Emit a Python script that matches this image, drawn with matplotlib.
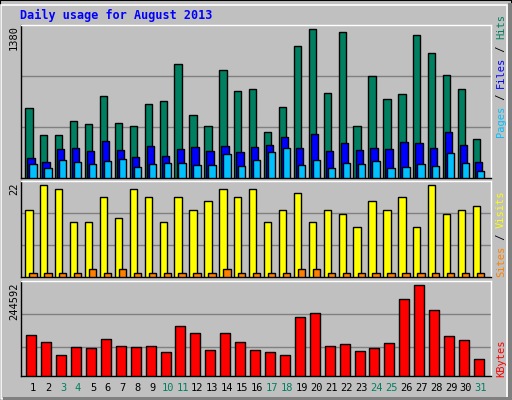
import matplotlib.pyplot as plt
from matplotlib.patches import Rectangle

days = list(range(1, 32))
weekend = [3, 4, 10, 11, 17, 18, 24, 25, 31]
hits = [632, 386, 386, 514, 486, 742, 495, 468, 669, 696, 1024, 568, 468, 970, 787, 805,
        413, 641, 1188, 1343, 769, 1316, 468, 915, 714, 760, 1289, 1125, 924, 805, 350]
files = [176, 140, 258, 267, 240, 331, 249, 185, 286, 195, 258, 277, 240, 286, 231, 277,
         295, 368, 267, 395, 240, 313, 249, 267, 258, 322, 313, 267, 413, 295, 140]
pages = [122, 85, 158, 140, 122, 149, 167, 94, 122, 131, 131, 112, 112, 213, 103, 158,
         231, 267, 112, 158, 85, 131, 122, 149, 85, 94, 122, 103, 222, 131, 58]
visits = [16, 22, 21, 13, 13, 19, 14, 21, 19, 13, 19, 16, 18, 21, 19, 21,
          13, 16, 20, 13, 16, 15, 12, 18, 16, 19, 12, 22, 15, 16, 17]
sites = [1, 1, 1, 1, 2, 1, 2, 1, 1, 1, 1, 1, 1, 2, 1, 1,
         1, 1, 2, 2, 1, 1, 1, 1, 1, 1, 1, 1, 1, 1, 1]
kbytes = [110700, 91900, 57100, 78600, 75900, 100000, 81200, 78600, 81200, 65200, 134800,
          116000, 70500, 116000, 91900, 70500, 65200, 57100, 158900, 169600, 81200, 86600,
          67800, 75900, 89300, 207100, 244592, 177600, 108000, 97300, 46400]

W, H = 512, 400
BG = '#C0C0C0'
fig = plt.figure(figsize=(W / 100, H / 100), dpi=100, facecolor=BG)

# outer 3D frame
fig.patches.append(Rectangle((0, 0), 1, 1, transform=fig.transFigure, fill=False,
                             edgecolor='black', lw=1.5))
fig.patches.append(Rectangle((1 / W, 1 / H), 1 - 6 / W, 1 - 6 / H, transform=fig.transFigure,
                             fill=False, edgecolor='white', lw=1.2))
fig.patches.append(Rectangle((3 / W, 0.5 / H), 1 - 4 / W, 3 / H, transform=fig.transFigure,
                             color='#808080', lw=0))
fig.patches.append(Rectangle((1 - 4 / W, 0.5 / H), 3.5 / W, 1 - 3 / H, transform=fig.transFigure,
                             color='#808080', lw=0))

x0, x1 = 20.7, 490.7
day1_px, step_px = 33.3, 14.92
XMIN = 1 - (day1_px - x0) / step_px
XMAX = 1 + (x1 - day1_px) / step_px


def make_ax(top, bottom, ymax):
    ax = fig.add_axes([x0 / W, 1 - bottom / H, (x1 - x0) / W, (bottom - top) / H])
    ax.set_facecolor(BG)
    ax.set_xlim(XMIN, XMAX)
    ax.set_ylim(0, ymax)
    ax.set_xticks([])
    ax.set_yticks([])
    for s in ax.spines.values():
        s.set_color('black')
        s.set_linewidth(1)
    ax.spines['top'].set_color('white')
    ax.spines['right'].set_color('white')
    return ax


def bars(ax, vals, off, width, color):
    ax.bar([d + off for d in days], vals, width=width, align='edge', color=color,
           edgecolor='black', linewidth=1, zorder=3)


mono = dict(family='DejaVu Sans Mono')

# top panel
ax1 = make_ax(25, 177.5, 1380)
for g in (460, 920):
    ax1.axhline(g, color='#808080', lw=1, zorder=1)
bars(ax1, hits, -0.54, 0.49, '#008060')
bars(ax1, files, -0.4, 0.49, '#0000FF')
bars(ax1, pages, -0.27, 0.49, '#00C0FF')

# middle panel
ax2 = make_ax(181, 277, 22 * 288 / 277)
for g in (7.6, 15.2):
    ax2.axhline(g, color='#808080', lw=1, zorder=1)
bars(ax2, visits, -0.54, 0.49, '#FFFF00')
bars(ax2, sites, -0.27, 0.49, '#FF8000')

# bottom panel
ax3 = make_ax(281, 376, 244592 * 285 / 274)
for g in (78600, 166500):
    ax3.axhline(g, color='#808080', lw=1, zorder=1)
bars(ax3, kbytes, -0.47, 0.67, '#FF0000')

# title
fig.text(20 / W, 1 - 15 / H, 'Daily usage for August 2013', color='#0000FF',
         fontsize=8.5, fontweight='bold', va='center', ha='left', **mono)

# max labels
for lab, ytop in (('1380', 25), ('22', 182), ('244592', 282)):
    fig.text(14 / W, 1 - ytop / H, lab, rotation=90, fontsize=7.5, va='top', ha='center', **mono)

# day labels
for d in days:
    xp = day1_px + (d - 1) * step_px
    fig.text(xp / W, 1 - 388 / H, str(d), fontsize=7.5, ha='center', va='center',
             color='#008060' if d in weekend else 'black', **mono)


# right rotated legends (built bottom up)
def legend(parts, ybottom):
    y = ybottom
    for txt, col in parts:
        fig.text(501 / W, 1 - y / H, txt, rotation=90, fontsize=7.5, color=col,
                 ha='center', va='bottom', **mono)
        y -= len(txt) * 6.1


legend([('Pages', '#00C0FF'), (' / ', 'black'), ('Files', '#0000FF'), (' / ', 'black'),
        ('Hits', '#008060')], 137)
legend([('Sites', '#FF8000'), (' / ', 'black'), ('Visits', '#FFFF00')], 277)
legend([('KBytes', '#FF0000')], 377)

fig.savefig('out.png', dpi=100, facecolor=BG)
